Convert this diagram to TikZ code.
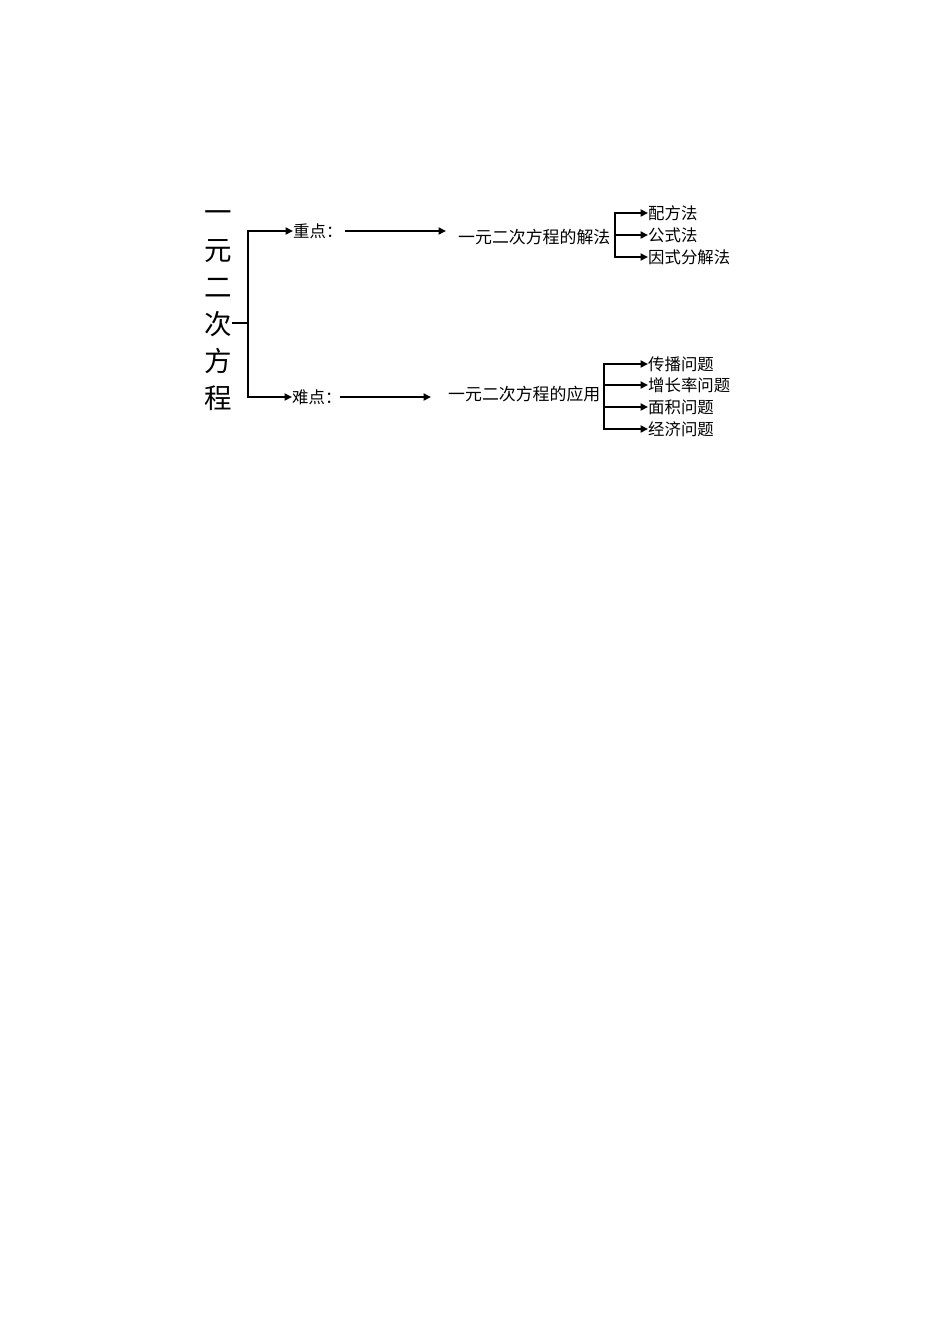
\documentclass[tikz,border=0pt]{standalone}
\usepackage{fontspec}
\newfontfamily\cjk{Noto Sans CJK SC}
\usetikzlibrary{arrows.meta}
\begin{document}
\begin{tikzpicture}[x=1pt,y=-1pt,
  txt/.style={font=\cjk\fontsize{16.4}{18}\selectfont, inner sep=0pt, anchor=west},
  mid/.style={font=\cjk\fontsize{16.9}{18}\selectfont, inner sep=0pt, anchor=west},
  ln/.style={line width=2.7pt, line cap=rect},
  arr/.style={line width=2.7pt, -{Triangle[length=7.5pt,width=7pt]}},
]
\useasboundingbox (0,0) rectangle (950,1344);
\fill[white] (0,0) rectangle (950,1344);
% title
\node[font=\cjk\fontsize{27.5}{37.2}\selectfont, align=center, inner sep=0pt] (title) at (218,311) {一\\元\\二\\次\\方\\程};
\coordinate (j) at (248,323);
\draw[line width=1.8pt] (title.east |- j) -- (j);
% branches
\node[txt] (zd) at (293,231) {重点：};
\node[txt] (nd) at (292,397) {难点：};
\draw[arr] (j) |- (zd.west);
\draw[arr] (j) |- (nd.west);
\node[mid] (jf) at (458,237) {一元二次方程的解法};
\node[mid] (yy) at (448,394) {一元二次方程的应用};
\draw[arr, shorten >=14pt] ([xshift=2pt]zd.east) -- ([xshift=2pt]zd.east -| jf.west);
\draw[arr, shorten >=17pt] ([xshift=-2pt]nd.east) -- (nd.east -| yy.west);
% top bracket
\coordinate (b1) at (615,0);
\node[txt] (l1) at (648,213) {配方法};
\node[txt] (l2) at (648,235) {公式法};
\node[txt] (l3) at (648,257) {因式分解法};
\draw[ln] (l1.west -| b1) -- (l3.west -| b1);
\foreach \n in {l1,l2,l3} \draw[arr] (\n.west -| b1) -- (\n.west);
% bottom bracket
\coordinate (b2) at (604,0);
\node[txt] (m1) at (648,364) {传播问题};
\node[txt] (m2) at (648,385) {增长率问题};
\node[txt] (m3) at (648,407) {面积问题};
\node[txt] (m4) at (648,429) {经济问题};
\draw[ln] (m1.west -| b2) -- (m4.west -| b2);
\foreach \n in {m1,m2,m3,m4} \draw[arr] (\n.west -| b2) -- (\n.west);
\end{tikzpicture}
\end{document}
